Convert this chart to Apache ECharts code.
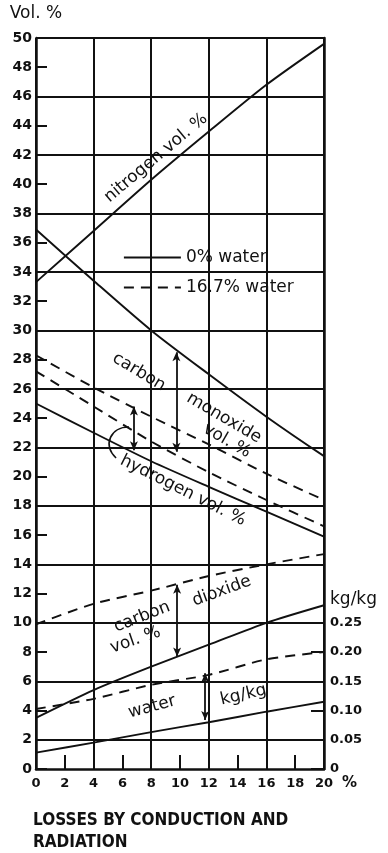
<!DOCTYPE html>
<html><head><meta charset="utf-8">
<script src="https://cdn.jsdelivr.net/npm/echarts@6/dist/echarts.min.js"></script>
<style>html,body{margin:0;padding:0;background:#fff}#c{width:388px;height:853px}</style>
</head><body><div id="c"></div>
<script>
// losses by conduction and radiation, %
const xLosses = [0, 4, 8, 12, 16, 20];
// vol. % (left axis)
const nitrogen = [33.3, 36.8, 40.3, 43.6, 46.8, 49.6];
const co0      = [36.9, 33.4, 30.0, 27.0, 24.1, 21.4];
const h2_0     = [25.0, 23.0, 21.05, 19.3, 17.6, 15.9];
const co17     = [28.3, 26.1, 24.1, 22.2, 20.2, 18.4];
const h2_17    = [27.2, 24.8, 22.4, 20.3, 18.4, 16.6];
const co2_0    = [3.5, 5.4, 7.0, 8.5, 10.0, 11.2];
const co2_17   = [9.9, 11.3, 12.2, 13.2, 14.0, 14.7];
// kg/kg (right axis)
const water0   = [0.028, 0.045, 0.063, 0.080, 0.098, 0.115];
const water17  = [0.1025, 0.120, 0.144, 0.161, 0.1875, 0.200];
// tick labels
const rightTicks = [0, 0.05, 0.10, 0.15, 0.20, 0.25];
// annotation arrows [x, yTop, yBottom] in vol.% units
const arrows = [[9.75, 28.5, 21.7], [6.8, 24.8, 21.8], [9.8, 12.6, 7.7], [11.75, 6.55, 3.35]];
// annotation texts [text, x, y, angleDeg]
const notes = [
  ['nitrogen vol. %', 8.33, 41.8, 40],
  ['carbon', 7.15, 27.15, -31],
  ['monoxide', 13.06, 24.0, -30.5],
  ['vol. %', 13.26, 22.45, -30],
  ['hydrogen vol. %', 10.2, 19.05, -26.7],
  ['carbon', 7.36, 10.4, 21.5],
  ['vol. %', 6.9, 8.82, 19],
  ['dioxide', 12.9, 12.17, 20],
  ['water', 8.06, 4.24, 15],
  ['kg/kg', 14.4, 5.06, 13]
];

const FONT = 'DejaVu Sans';
const BLACK = '#111';
const chart = echarts.init(document.getElementById('c'));
const pts = ys => xLosses.map((x, i) => [x, ys[i]]);
const lineS = (name, ys, dashed, axis) => ({
  name, type: 'line', data: pts(ys), yAxisIndex: axis || 0,
  symbol: 'none', smooth: 0.25, silent: true, z: 5,
  itemStyle: { color: BLACK },
  lineStyle: { color: BLACK, width: 1.9, type: dashed ? [10, 7] : 'solid' }
});

const series = [
  lineS('0% water', nitrogen), lineS('0% water', co0), lineS('0% water', h2_0),
  lineS('0% water', co2_0), lineS('0% water', water0, false, 1),
  lineS('16.7% water', co17, true), lineS('16.7% water', h2_17, true),
  lineS('16.7% water', co2_17, true), lineS('16.7% water', water17, true, 1)
];
series[0].markLine = {
  silent: true, symbol: ['arrow', 'arrow'], symbolSize: [6, 9],
  label: { show: false },
  lineStyle: { color: BLACK, width: 1.8, type: 'solid' },
  data: arrows.map(a => [{ coord: [a[0], a[1]] }, { coord: [a[0], a[2]] }])
};

chart.setOption({
  animation: false,
  backgroundColor: '#fff',
  grid: { left: 36, right: 64, top: 38, bottom: 84 },
  title: {
    text: 'LOSSES BY CONDUCTION AND\nRADIATION', left: 33, top: 810, padding: 0,
    textStyle: { fontFamily: 'DejaVu Sans Condensed', fontWeight: 'bold', fontSize: 17, lineHeight: 22, color: BLACK }
  },
  legend: {
    data: ['0% water', '16.7% water'], orient: 'vertical', left: 123, top: 249, padding: 0,
    itemWidth: 57, itemHeight: 14, itemGap: 13, selectedMode: false,
    itemStyle: { opacity: 0 },
    lineStyle: { color: BLACK, width: 1.8 },
    textStyle: { fontFamily: FONT, fontSize: 17, color: BLACK }
  },
  xAxis: {
    type: 'value', min: 0, max: 20, interval: 2,
    name: '%', nameLocation: 'end', nameGap: 18,
    nameTextStyle: { fontFamily: FONT, fontWeight: 'bold', fontSize: 15, color: BLACK, verticalAlign: 'top', padding: [7, 0, 0, 0] },
    axisLine: { show: true, onZero: false, lineStyle: { color: BLACK, width: 2.5 } },
    axisTick: { show: true, inside: true, length: 14, lineStyle: { color: BLACK, width: 2 } },
    axisLabel: { fontFamily: FONT, fontWeight: 'bold', fontSize: 13, color: BLACK, margin: 8 },
    splitLine: { show: true, lineStyle: { color: [BLACK, 'rgba(0,0,0,0)'], width: 2 } }
  },
  yAxis: [{
    type: 'value', min: 0, max: 50, interval: 2, position: 'left',
    name: 'Vol. %', nameLocation: 'end', nameGap: 16,
    nameTextStyle: { fontFamily: FONT, fontSize: 17, color: BLACK },
    axisLine: { show: true, onZero: false, lineStyle: { color: BLACK, width: 2.5 } },
    axisTick: { show: true, inside: true, length: 11, lineStyle: { color: BLACK, width: 2 } },
    axisLabel: { fontFamily: FONT, fontWeight: 'bold', fontSize: 14, color: BLACK, margin: 4 },
    splitLine: { show: true, lineStyle: { color: ['rgba(0,0,0,0)', BLACK], width: 2 } }
  }, {
    type: 'value', min: 0, max: 1.25, interval: 0.05, position: 'right',
    axisLine: { show: true, onZero: false, lineStyle: { color: BLACK, width: 2.5 } },
    axisTick: { show: true, inside: true, length: 13, customValues: rightTicks, lineStyle: { color: BLACK, width: 2 } },
    axisLabel: {
      customValues: rightTicks.concat([0.289]),
      formatter: v => v > 0.27 ? '{u|kg/kg}' : (v === 0 ? '0' : v.toFixed(2)),
      fontFamily: FONT, fontWeight: 'bold', fontSize: 13, color: BLACK, margin: 6,
      rich: { u: { fontFamily: FONT, fontSize: 17, fontWeight: 'normal', color: BLACK } }
    },
    splitLine: { show: false }
  }],
  series
});

const toPx = (x, y) => chart.convertToPixel({ gridIndex: 0 }, [x, y]);
const graphics = notes.map(n => {
  const p = toPx(n[1], n[2]);
  return {
    type: 'text', x: p[0], y: p[1], rotation: n[3] * Math.PI / 180, z: 10, silent: true,
    style: { text: n[0], fontFamily: FONT, fontSize: 17, fill: BLACK, align: 'center', verticalAlign: 'middle' }
  };
});
const c0 = toPx(5.56, 21.27), c1 = toPx(4.6, 22.2), c2 = toPx(5.2, 23.4), c3 = toPx(6.46, 23.39);
graphics.push({
  type: 'bezierCurve', silent: true, z: 10,
  shape: { x1: c0[0], y1: c0[1], cpx1: c1[0], cpy1: c1[1], cpx2: c2[0], cpy2: c2[1], x2: c3[0], y2: c3[1] },
  style: { stroke: BLACK, lineWidth: 1.6, fill: null }
});
chart.setOption({ graphic: graphics });
</script>
</body></html>
